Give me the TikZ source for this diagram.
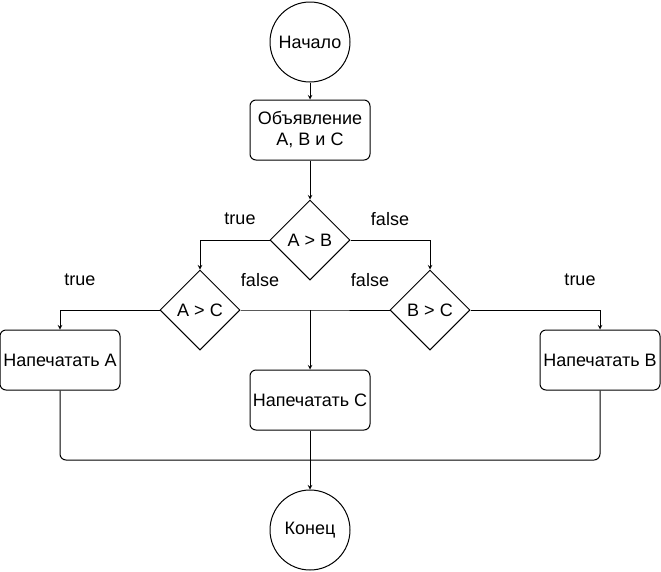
\documentclass[tikz,border=0pt]{standalone}
\usepackage{fontspec}
\setmainfont{Liberation Sans}
\usetikzlibrary{arrows, shapes.geometric, calc, positioning}
\tikzset{
    termNode/.style={circle, draw, fill=white, inner sep=0pt, minimum size=80pt},
    procNode/.style={rectangle, draw, fill=white, rounded corners=6pt, align=center, inner sep=1pt, minimum width=120pt, minimum height=60pt},
    condNode/.style={diamond, draw, fill=white, aspect=1, inner sep=0pt, minimum width=80pt, minimum height=80pt},
    flowEdge/.style={->, >=stealth, line width=1pt},
    flowLine/.style={line width=1pt},
    flowLabel/.style={font=\fontsize{18}{21}\selectfont},
}
\newcommand{\drawFlow}[3][flowEdge]{
    \draw[#1] (#2) -- (#3);
}

\begin{document}
\begin{tikzpicture}[x=1pt, y=-1pt, line width=1pt, font=\fontsize{18}{21}\selectfont]
        \useasboundingbox (0,0) rectangle (661,571);

        \node[termNode] (start) at (310,42) {Начало};
        \node[procNode] (decl) at (310,130) {Объявление\\A, B и C};
        \node[condNode] (ab) at (310,240) {A > B};
        \node[condNode] (ac) at (200,310) {A > C};
        \node[condNode] (bc) at (430,310) {B > C};
        \node[procNode] (printA) at (60,360) {Напечатать A};
        \node[procNode] (printC) at (310,400) {Напечатать C};
        \node[procNode] (printB) at (600,360) {Напечатать B};
        \node[termNode] (stop) at (310,530) {Конец};
        \coordinate (mid) at (310,310);
        \coordinate (join) at (310,460);

        \drawFlow{start}{decl}
        \drawFlow{decl}{ab}
        \draw[flowEdge] (ab.west) -| (ac.north);
        \draw[flowEdge] (ab.east) -| (bc.north);
        \draw[flowEdge] (ac.west) -| (printA.north);
        \draw[flowEdge] (bc.east) -| (printB.north);
        \draw[flowLine] (ac.east) -- (mid) -- (bc.west);
        \drawFlow{mid}{printC}
        \draw[flowLine, rounded corners=6pt] (printA.south) |- (join) -| (printB.south);
        \drawFlow{printC}{stop}

        % branch labels
        \node[flowLabel] (t1) at (240,219) {true};
        \node[flowLabel] (f1) at (390,219) {false};
        \node[flowLabel] (t2) at (80,280) {true};
        \node[flowLabel] (f2) at (260,280) {false};
        \node[flowLabel] (f3) at (370,280) {false};
        \node[flowLabel] (t3) at (580,280) {true};

    \end{tikzpicture}
\end{document}
